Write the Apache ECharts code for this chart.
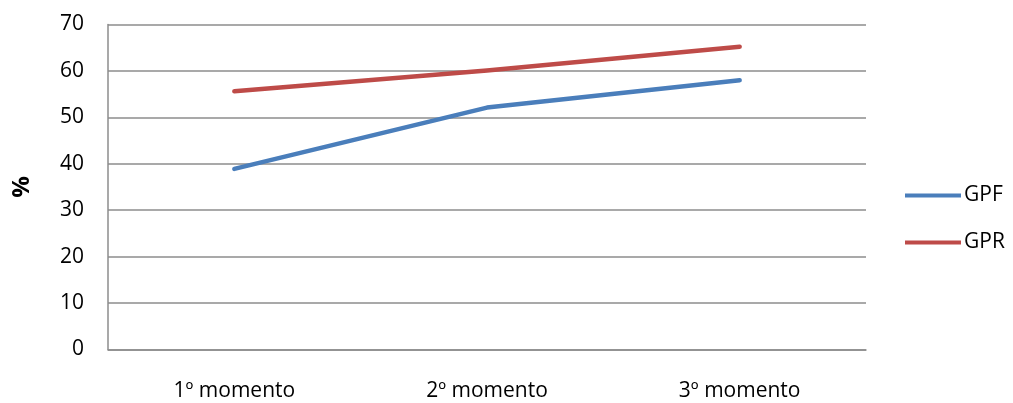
<!DOCTYPE html>
<html>
<head>
<meta charset="utf-8">
<script src="https://cdn.jsdelivr.net/npm/echarts@6/dist/echarts.min.js"></script>
<style>
  html, body { margin: 0; padding: 0; background: #fff; }
  #chart { width: 1013px; height: 403px; }
</style>
</head>
<body>
<div id="chart"></div>
<script>
// Percentages per moment for each group
const categories = ['1º momento', '2º momento', '3º momento'];
const gpf = [38.9, 52.1, 58.0];
const gpr = [55.6, 60.1, 65.2];
const yTicks = { min: 0, max: 70, interval: 10 };

const FONT = '"Open Sans", "DejaVu Sans", sans-serif';
const AXIS_GRAY = '#8c8c8c';

const chart = echarts.init(document.getElementById('chart'), null, { renderer: 'canvas' });

chart.setOption({
  animation: false,
  backgroundColor: '#ffffff',
  textStyle: { fontFamily: FONT },
  grid: { left: 108, top: 24.5, right: 147, bottom: 53.5, containLabel: false },
  legend: {
    orient: 'vertical',
    left: 900,
    top: 180,
    itemWidth: 56,
    itemHeight: 4,
    itemGap: 26,
    icon: 'rect',
    textStyle: { fontFamily: FONT, fontSize: 21, color: '#000', padding: [0, 0, 0, -2] },
    data: ['GPF', 'GPR']
  },
  xAxis: {
    type: 'category',
    data: categories,
    boundaryGap: true,
    axisLine: { show: true, lineStyle: { color: AXIS_GRAY, width: 1.5 } },
    axisTick: { show: false },
    axisLabel: { color: '#000', fontSize: 21, fontFamily: FONT, margin: 31 },
    splitLine: { show: false }
  },
  yAxis: {
    type: 'value',
    min: yTicks.min,
    max: yTicks.max,
    interval: yTicks.interval,
    name: '%',
    nameLocation: 'middle',
    nameGap: 74,
    nameRotate: 90,
    nameTextStyle: { color: '#000', fontSize: 24, fontWeight: 'bold', fontFamily: FONT },
    axisLine: { show: true, lineStyle: { color: AXIS_GRAY, width: 1.5 } },
    axisTick: { show: false },
    axisLabel: { color: '#000', fontSize: 21, fontFamily: FONT, margin: 24 },
    splitLine: { show: true, lineStyle: { color: AXIS_GRAY, width: 1.5 } }
  },
  series: [
    {
      name: 'GPF',
      type: 'line',
      data: gpf,
      symbol: 'none',
      lineStyle: { color: '#4a7ebb', width: 4.5, cap: 'round', join: 'round' },
      itemStyle: { color: '#4a7ebb' }
    },
    {
      name: 'GPR',
      type: 'line',
      data: gpr,
      symbol: 'none',
      lineStyle: { color: '#be4b48', width: 4.5, cap: 'round', join: 'round' },
      itemStyle: { color: '#be4b48' }
    }
  ]
});
</script>
</body>
</html>
